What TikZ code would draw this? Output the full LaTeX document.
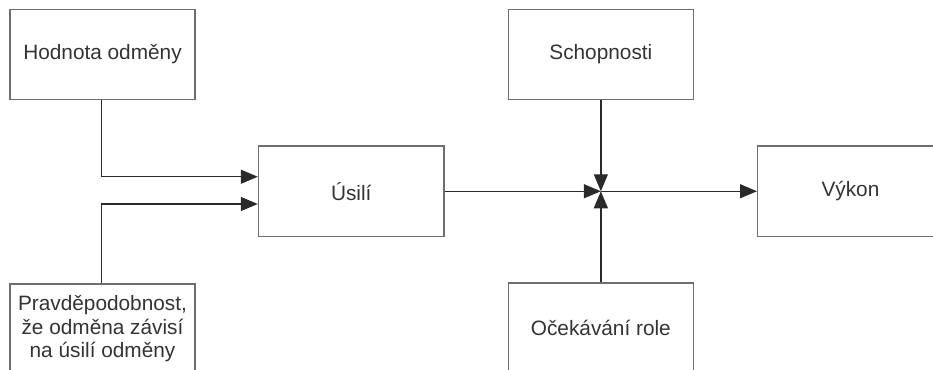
\documentclass[tikz,border=0pt]{standalone}
\usepackage{fontspec}
\setmainfont{Liberation Sans}
\usetikzlibrary{arrows.meta}
\definecolor{boxgray}{HTML}{6E6E6E}
\definecolor{linegray}{HTML}{2A2A2A}
\definecolor{txtgray}{HTML}{333333}
\begin{document}
\begin{tikzpicture}[x=1pt,y=-1pt,
  box/.style={draw=boxgray,line width=1.4pt,rectangle,minimum width=185pt,minimum height=90pt,
    inner sep=0pt,align=center,text=txtgray,font=\fontsize{20.8}{23.5}\selectfont},
  arr/.style={draw=linegray,line width=1.3pt,-{Triangle[length=17pt,width=14pt]}},
  ln/.style={draw=linegray,line width=1.3pt}]
\useasboundingbox (0,0) rectangle (933,369);
\clip (0,0) rectangle (933,369);
\node[box] (h) at (102.5,54.5) {Hodnota odměny};
\node[box] (p) at (102.5,329) {Pravděpodobnost,\\že odměna závisí\\na úsilí odměny};
\node[box,minimum width=185.5pt,minimum height=90.5pt] (u) at (351.25,191.25) {Úsilí};
\node[box] (s) at (600.85,54.5) {Schopnosti};
\node[box] (o) at (600.85,328) {Očekávání role};
\node[box,minimum width=185.5pt,minimum height=90.5pt] (v) at (850.45,191.25) {Výkon};
\coordinate (j) at (s.south |- u.east);
\draw[arr] ([xshift=-0.8pt]h.south) |- ([yshift=14.5pt]u.west);
\draw[arr] ([xshift=-0.8pt]p.north) |- ([yshift=-12.75pt]u.west);
\draw[arr] (u.east) -- (j);
\draw[arr] (s.south) -- (j);
\draw[arr] (o.north) -- (j);
\draw[arr] (j) -- (v.west);
\end{tikzpicture}
\end{document}
